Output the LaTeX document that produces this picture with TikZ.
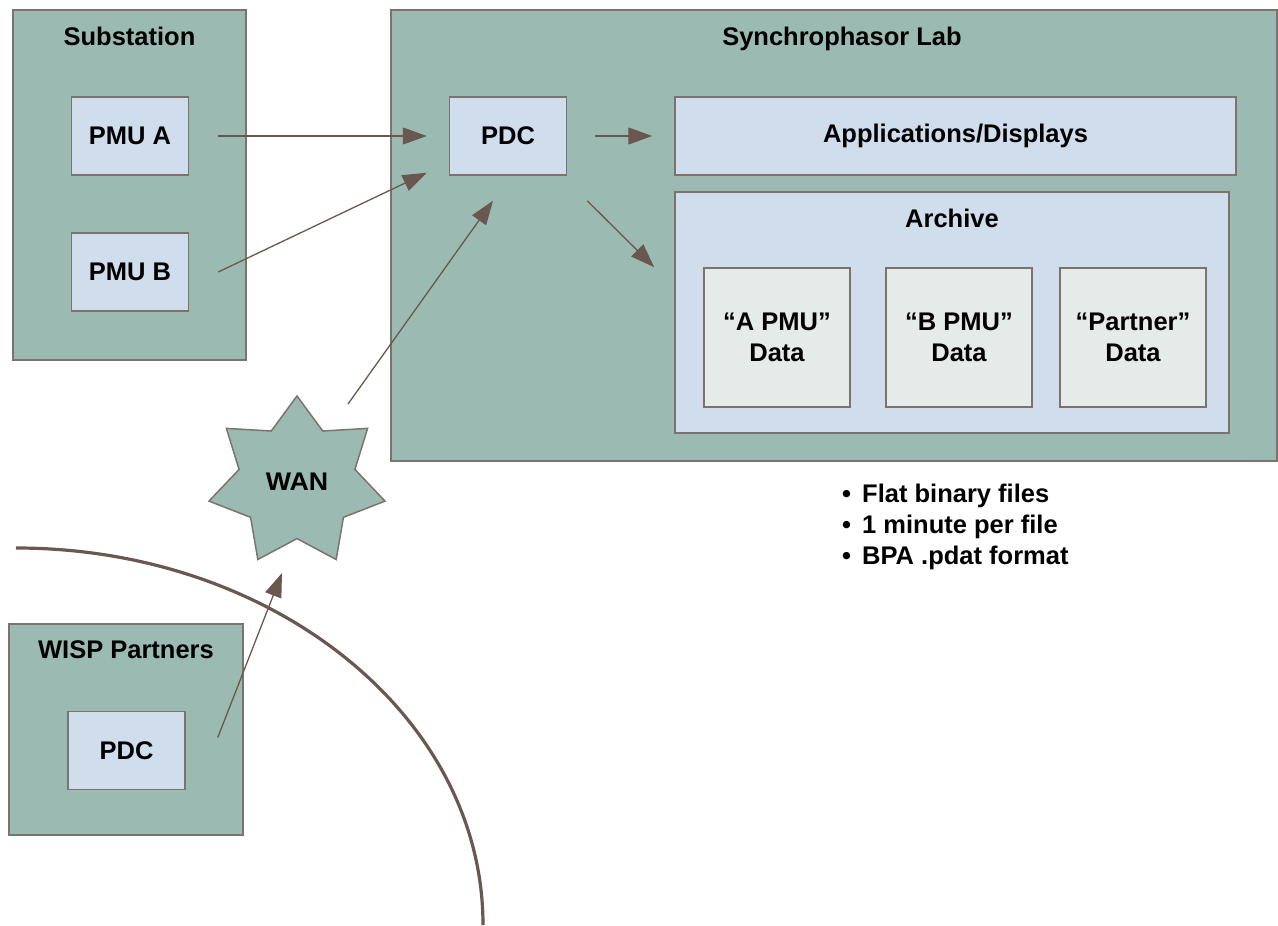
\documentclass[tikz,border=0pt]{standalone}
\usepackage{fontspec}
\setmainfont{Liberation Sans}
\usetikzlibrary{arrows.meta, positioning, shapes.geometric, calc}
\definecolor{labgreen}{RGB}{155,187,178}
\definecolor{boxblue}{RGB}{207,221,236}
\definecolor{datagray}{RGB}{228,235,232}
\definecolor{edgegray}{RGB}{125,115,110}
\definecolor{arrowbrown}{RGB}{106,88,80}

\begin{document}
\begin{tikzpicture}[
  x=1pt, y=-1pt,
  every node/.style={font=\fontsize{25.5}{31}\selectfont\bfseries, inner sep=0pt},
  area/.style={draw=edgegray, line width=1.5pt, fill=labgreen},
  box/.style={draw=edgegray, line width=1.5pt, fill=boxblue, align=center, minimum width=117pt, minimum height=78pt},
  data/.style={draw=edgegray, line width=1.5pt, fill=datagray, align=center, minimum width=146pt, minimum height=139pt},
  title/.style={anchor=base},
  arrow/.style={-{Triangle[length=24pt, width=17pt]}, line width=1.3pt, color=arrowbrown}
]
\useasboundingbox (0,0) rectangle (1278,926);

\node[area, minimum width=233pt, minimum height=350pt] (sub) at (129.5,185) {};
\node[title] (subtitle) at ([yshift=-36pt]sub.north) {Substation};
\node[box] (pmua) at (130,136) {PMU A};
\node[box] (pmub) at (130,272) {PMU B};

\node[area, minimum width=886pt, minimum height=451pt] (lab) at (834,235.5) {};
\node[title] (labtitle) at ([xshift=8pt, yshift=-36pt]lab.north) {Synchrophasor Lab};
\node[box] (pdc) at (508,136) {PDC};
\node[box, minimum width=561pt] (apps) at (955.5,136) {Applications/Displays};
\node[box, minimum width=554pt, minimum height=241pt] (arch) at (952,312.5) {};
\node[title] (archtitle) at ([yshift=-36pt]arch.north) {Archive};
\node[data] (adata) at (777,337.5) {“A PMU”\\Data};
\node[data] (bdata) at (959,337.5) {“B PMU”\\Data};
\node[data] (pdata) at (1133,337.5) {“Partner”\\Data};

\node[anchor=north west, align=left] (notes) at (842,484) {\makebox[20pt][l]{\textbullet}Flat binary files\\
  \makebox[20pt][l]{\textbullet}1 minute per file\\
  \makebox[20pt][l]{\textbullet}BPA .pdat format};

\node[star, star points=7, star point ratio=1.52, minimum size=172pt, draw=edgegray, line width=1.5pt, fill=labgreen, xscale=1.05, transform shape] (wan) at (297,482) {WAN};

\node[area, minimum width=234pt, minimum height=211pt] (wisp) at (126,729.5) {};
\node[title] (wisptitle) at ([yshift=-35pt]wisp.north) {WISP Partners};
\node[box] (wpdc) at (126.5,750.5) {PDC};

\draw[arrow] ([xshift=29pt]pmua.east) -- ([xshift=-22pt]pdc.west);
\draw[arrow] ([xshift=29pt]pmub.east) -- ([xshift=-22pt, yshift=3pt]pdc.south west);
\draw[arrow] ([xshift=51pt, yshift=78pt]wan.center) -- ([xshift=-15pt, yshift=-25pt]pdc.south);
\draw[arrow] ([xshift=28pt]pdc.east) -- ([xshift=-22pt]apps.west);
\draw[arrow] ([xshift=20pt, yshift=-25pt]pdc.south east) -- ([xshift=-20pt, yshift=-76pt]arch.north west);
\draw[arrow] ([xshift=32pt, yshift=13pt]wpdc.east) -- ([xshift=-15pt, yshift=-91pt]wan.center);

\draw[line width=3.2pt, arrowbrown] (16,548) arc[start angle=90, end angle=0, x radius=467pt, y radius=377pt];
\end{tikzpicture}
\end{document}
